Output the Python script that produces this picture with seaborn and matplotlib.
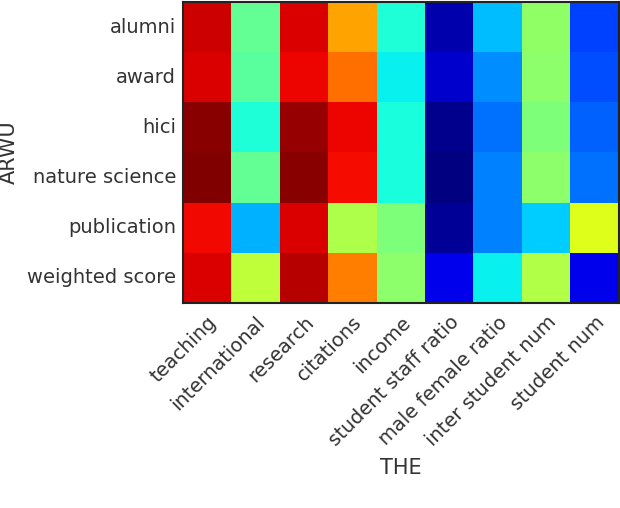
import numpy as np
import pandas as pd
import matplotlib
matplotlib.use("Agg")
import matplotlib.pyplot as plt
import seaborn as sns

# rows (ARWU indicators) and columns (THE indicators)
arwu = ['alumni', 'award', 'hici', 'nature science', 'publication', 'weighted score']
the = ['teaching', 'international', 'research', 'citations', 'income',
       'student staff ratio', 'male female ratio', 'inter student num', 'student num']

# values (0..1)
alumni = [0.93, 0.47, 0.92, 0.735, 0.39, 0.04, 0.31, 0.525, 0.19]
award = [0.92, 0.46, 0.905, 0.79, 0.36, 0.07, 0.265, 0.52, 0.20]
hici = [0.99, 0.39, 0.98, 0.905, 0.38, 0.015, 0.235, 0.50, 0.22]
nature_science = [1.00, 0.47, 0.99, 0.895, 0.38, 0.0, 0.25, 0.52, 0.235]
publication = [0.90, 0.30, 0.92, 0.56, 0.50, 0.02, 0.25, 0.325, 0.62]
weighted_score = [0.92, 0.58, 0.95, 0.775, 0.52, 0.095, 0.36, 0.565, 0.095]

df = pd.DataFrame([alumni, award, hici, nature_science, publication, weighted_score],
                  index=arwu, columns=the)

sns.set_style("white")
plt.rcParams['font.family'] = ['DejaVu Sans']

fig = plt.figure(figsize=(6.2, 5.08), dpi=100)
ax = fig.add_axes([0.295, 0.404, 0.703, 0.592])
sns.heatmap(df, cmap='jet', vmin=0, vmax=1, cbar=False, ax=ax)

for s in ax.spines.values():
    s.set_visible(True)
    s.set_color('#222222')
    s.set_linewidth(1.5)

ax.tick_params(length=0, labelsize=14, colors='#333333')
ax.tick_params(axis='x', pad=7)
ax.tick_params(axis='y', pad=5)
plt.setp(ax.get_yticklabels(), rotation=0)
plt.setp(ax.get_xticklabels(), rotation=45, ha='right', rotation_mode='anchor')
ax.set_xlabel('THE', fontsize=15, color='#333333', labelpad=6)
ax.set_ylabel('ARWU', fontsize=15, color='#333333', labelpad=6)

fig.savefig('out.png', dpi=100)
